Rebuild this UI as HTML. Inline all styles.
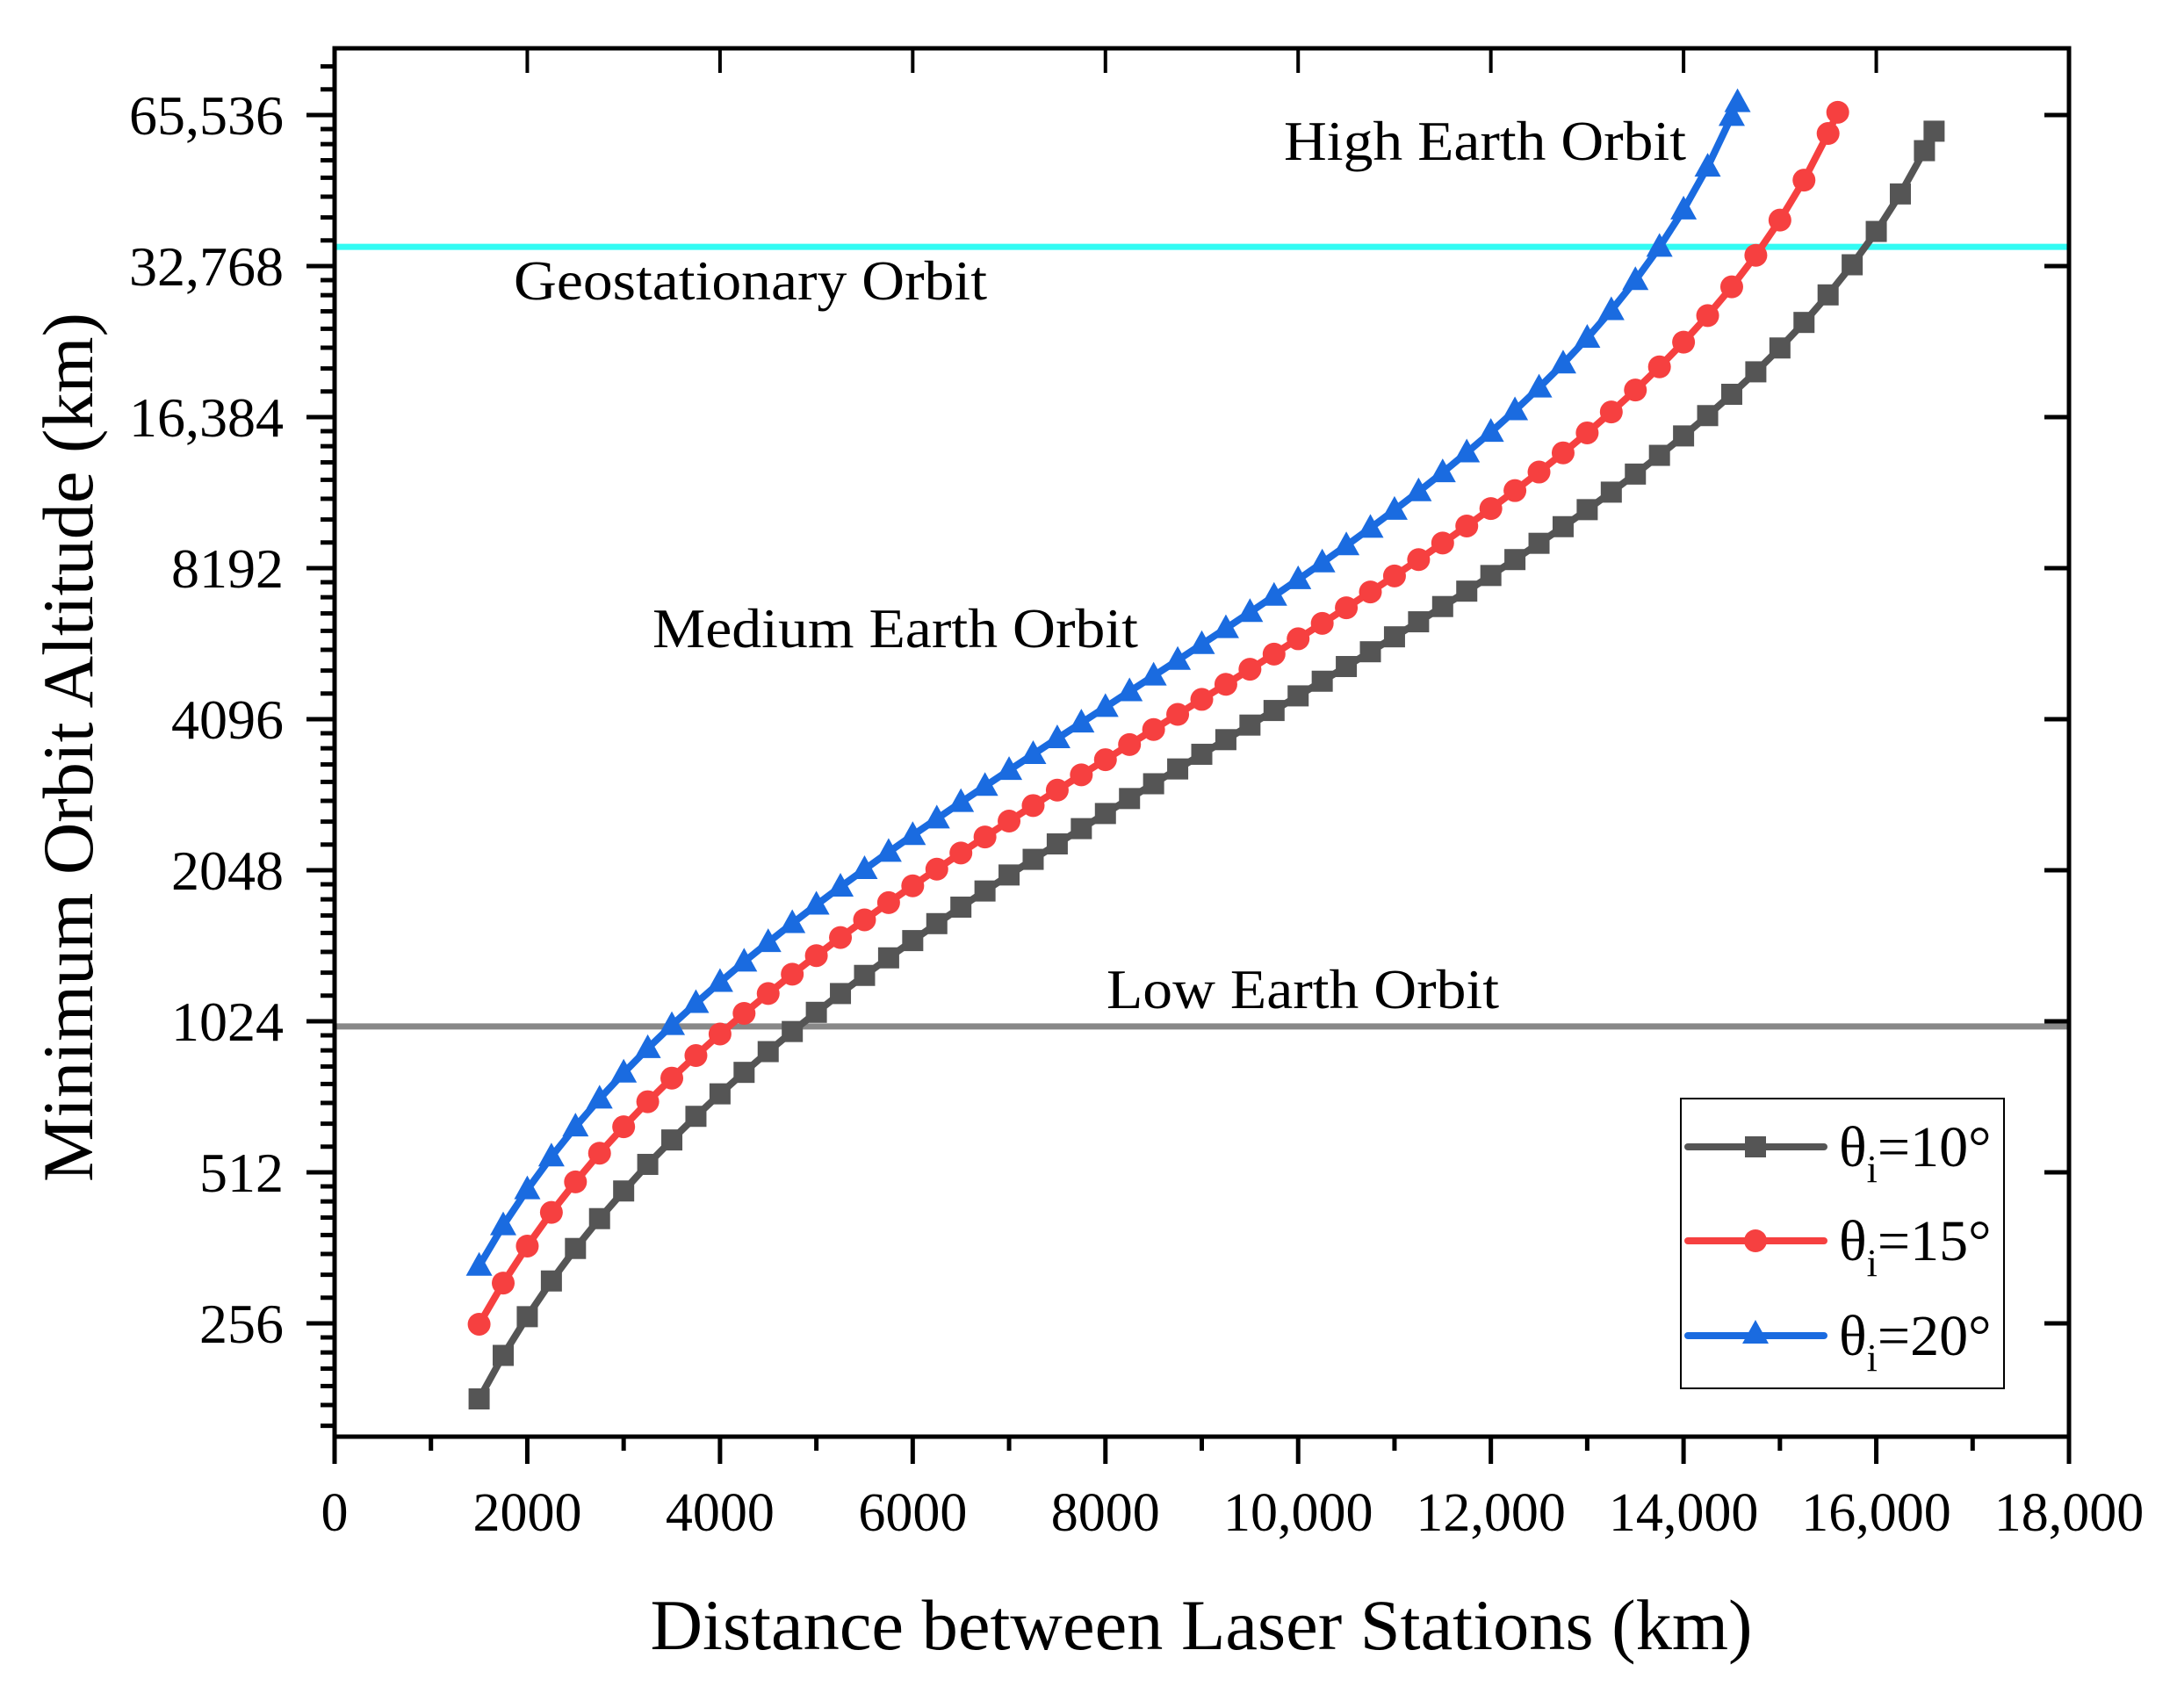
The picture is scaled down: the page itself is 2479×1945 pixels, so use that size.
<!DOCTYPE html>
<html><head><meta charset="utf-8"><title>Minimum Orbit Altitude vs Distance</title>
<style>
html,body{margin:0;padding:0;background:#fff;}
svg{display:block;font-family:"Liberation Serif",serif;}
</style></head>
<body>
<svg id="chart" xmlns="http://www.w3.org/2000/svg" width="2479" height="1945" viewBox="0 0 2479 1945">
<rect x="0" y="0" width="2479" height="1945" fill="#fff"/>
<g id="refLines"></g>
<g id="series"></g>
<g id="axes"></g>
<g id="annot"></g>
<g id="legend"></g>
</svg>
<script>
// ---- data ----
const xTicks = [0,2000,4000,6000,8000,10000,12000,14000,16000,18000];
const xTickLabels = ["0","2000","4000","6000","8000","10,000","12,000","14,000","16,000","18,000"];
const yTicks = [256,512,1024,2048,4096,8192,16384,32768,65536];
const yTickLabels = ["256","512","1024","2048","4096","8192","16,384","32,768","65,536"];

const dist10 = [1500,1750,2000,2250,2500,2750,3000,3250,3500,3750,4000,4250,4500,4750,5000,5250,5500,5750,6000,6250,6500,6750,7000,7250,7500,7750,8000,8250,8500,8750,9000,9250,9500,9750,10000,10250,10500,10750,11000,11250,11500,11750,12000,12250,12500,12750,13000,13250,13500,13750,14000,14250,14500,14750,15000,15250,15500,15750,16000,16250,16500,16600];
const alt10 = [181,221,264,311,361,414,470,531,594,662,734,810,891,977,1067,1163,1264,1370,1483,1603,1729,1862,2004,2153,2311,2479,2657,2846,3046,3260,3487,3729,3987,4263,4559,4876,5216,5582,5978,6405,6869,7372,7921,8521,9182,9910,10716,11612,12616,13747,15030,16499,18193,20170,22502,25300,28710,32966,38413,45628,55653,60850];

const dist15 = [1500,1750,2000,2250,2500,2750,3000,3250,3500,3750,4000,4250,4500,4750,5000,5250,5500,5750,6000,6250,6500,6750,7000,7250,7500,7750,8000,8250,8500,8750,9000,9250,9500,9750,10000,10250,10500,10750,11000,11250,11500,11750,12000,12250,12500,12750,13000,13250,13500,13750,14000,14250,14500,14750,15000,15250,15500,15600];
const alt15 = [255,308,365,426,490,559,631,708,789,875,966,1062,1163,1271,1384,1504,1631,1765,1907,2058,2217,2386,2566,2756,2958,3173,3402,3646,3907,4187,4486,4807,5152,5523,5924,6359,6830,7344,7905,8519,9194,9941,10769,11694,12733,13906,15241,16775,18552,20636,23112,26105,29789,34433,40462,48610,60215,66370];

const dist20 = [1500,1750,2000,2250,2500,2750,3000,3250,3500,3750,4000,4250,4500,4750,5000,5250,5500,5750,6000,6250,6500,6750,7000,7250,7500,7750,8000,8250,8500,8750,9000,9250,9500,9750,10000,10250,10500,10750,11000,11250,11500,11750,12000,12250,12500,12750,13000,13250,13500,13750,14000,14250,14500,14560];
const alt20 = [333,401,473,550,631,717,808,904,1005,1112,1225,1345,1471,1605,1747,1897,2056,2225,2404,2594,2797,3012,3241,3486,3748,4028,4328,4650,4997,5371,5776,6214,6690,7209,7777,8400,9088,9848,10695,11642,12707,13915,15294,16886,18743,20930,23546,26730,30692,35748,42421,51646,65190,69440];

const geoAlt = 35786;
const leoAlt = 1000;

// ---- layout ----
const L=381,R=2356,T=55,B=1636;
const X0=0,X1=18000;
const Y256=1507, PX_PER_DOUBLING=172;
function xs(v){return L+(v-X0)/(X1-X0)*(R-L);}
function ys(v){return Y256-Math.log2(v/256)*PX_PER_DOUBLING;}

const NS="http://www.w3.org/2000/svg";
function mk(tag,attrs,parent){const e=document.createElementNS(NS,tag);for(const k in attrs)e.setAttribute(k,attrs[k]);parent.appendChild(e);return e;}

const axes=document.getElementById('axes');
const refL=document.getElementById('refLines');
const ser=document.getElementById('series');
const ann=document.getElementById('annot');
const leg=document.getElementById('legend');

// reference lines
let g1=mk('line',{x1:L,x2:R,y1:ys(geoAlt),y2:ys(geoAlt),stroke:'#33fbf3','stroke-width':7},refL);


let g2=mk('line',{x1:L,x2:R,y1:ys(leoAlt),y2:ys(leoAlt),stroke:'#888888','stroke-width':7},refL);



// series
function drawSeries(dist,alt,color,shape,name){
  const grp=mk('g',{},ser);
  
  
  const pts=dist.map((d,i)=>xs(d).toFixed(1)+','+ys(alt[i]).toFixed(1)).join(' ');
  const pl=mk('polyline',{points:pts,fill:'none',stroke:color,'stroke-width':8,'stroke-linejoin':'round'},grp);
  
  
  dist.forEach((d,i)=>{
    const cx=xs(d),cy=ys(alt[i]);let m;
    if(shape==='square'){m=mk('rect',{x:cx-12,y:cy-12,width:24,height:24,fill:color},grp);}
    else if(shape==='circle'){m=mk('circle',{cx:cx,cy:cy,r:13,fill:color},grp);}
    else {m=mk('polygon',{points:`${cx},${cy-16} ${cx-15},${cy+11} ${cx+15},${cy+11}`,fill:color},grp);}
    
    
  });
}
drawSeries(dist10,alt10,'#555555','square','series-theta-10');
drawSeries(dist15,alt15,'#f64040','circle','series-theta-15');
drawSeries(dist20,alt20,'#1a6be0','triangle','series-theta-20');

// axes frame
let fr=mk('rect',{x:L,y:T,width:R-L,height:B-T,fill:'none',stroke:'#000','stroke-width':5},axes);



// x ticks
xTicks.forEach((v,i)=>{
  const x=xs(v);
  let t=mk('line',{x1:x,x2:x,y1:B,y2:B+31,stroke:'#000','stroke-width':5},axes);
  
  
  let tt=mk('line',{x1:x,x2:x,y1:T,y2:T+28,stroke:'#000','stroke-width':4},axes);
  
  
  const lb=mk('text',{x:x,y:1743,'font-size':62,'text-anchor':'middle',fill:'#000'},axes);
  lb.textContent=xTickLabels[i];
  
  
  if(i<xTicks.length-1){
    const xm=xs(v+1000);
    let mt=mk('line',{x1:xm,x2:xm,y1:B,y2:B+16,stroke:'#000','stroke-width':5},axes);
    
    
  }
});

// y ticks
const yMin=256/Math.pow(2,(B-Y256)/PX_PER_DOUBLING), yMax=65536*Math.pow(2,(ys(65536)-T)/PX_PER_DOUBLING);
yTicks.forEach((v,i)=>{
  const y=ys(v);
  let t=mk('line',{x1:L-32,x2:L,y1:y,y2:y,stroke:'#000','stroke-width':5},axes);
  
  
  let rt=mk('line',{x1:R-28,x2:R,y1:y,y2:y,stroke:'#000','stroke-width':5},axes);
  
  
  const lb=mk('text',{x:323,y:y+22,'font-size':64,'text-anchor':'end',fill:'#000'},axes);
  lb.textContent=yTickLabels[i];
  
  
});
for(let base=128;base<=65536;base*=2){
  for(let j=1;j<8;j++){
    const v=base*(1+j/8);
    if(v<yMin||v>yMax)continue;
    const y=ys(v);
    let mt=mk('line',{x1:L-16,x2:L,y1:y,y2:y,stroke:'#000','stroke-width':5},axes);
    
    
  }
}

// axis titles
let xt=mk('text',{x:1368,y:1878,'font-size':82,'text-anchor':'middle',fill:'#000',textLength:1255,lengthAdjust:'spacingAndGlyphs'},axes);
xt.textContent='Distance between Laser Stations (km)';


let yt=mk('text',{x:0,y:0,'font-size':82,'text-anchor':'middle',fill:'#000',transform:'translate(105,851) rotate(-90)',textLength:990,lengthAdjust:'spacingAndGlyphs'},axes);
yt.textContent='Minimum Orbit Altitude (km)';



// annotations
const notes=[['High Earth Orbit',1462,182,458,'label-high-earth-orbit'],['Geostationary Orbit',585,341,539,'label-geostationary-orbit'],['Medium Earth Orbit',743,737,553,'label-medium-earth-orbit'],['Low Earth Orbit',1260,1148,447,'label-low-earth-orbit']];
notes.forEach(n=>{
  const t=mk('text',{x:n[1],y:n[2],'font-size':64,fill:'#000',textLength:n[3],lengthAdjust:'spacingAndGlyphs'},ann);
  t.textContent=n[0];
  
  
});

// legend
let lb=mk('rect',{x:1914,y:1251,width:368,height:330,fill:'#fff',stroke:'#000','stroke-width':2},leg);


const legItems=[['#555555','square','10°',1306,'legend-entry-theta-10'],['#f64040','circle','15°',1413,'legend-entry-theta-15'],['#1a6be0','triangle','20°',1521,'legend-entry-theta-20']];
legItems.forEach(it=>{
  const g=mk('g',{},leg);
  
  
  const y=it[3],c=it[0];
  mk('line',{x1:1922,x2:2077,y1:y,y2:y,stroke:c,'stroke-width':8,'stroke-linecap':'round'},g);
  const cx=1999;
  if(it[1]==='square')mk('rect',{x:cx-12,y:y-12,width:24,height:24,fill:c},g);
  else if(it[1]==='circle')mk('circle',{cx:cx,cy:y,r:13,fill:c},g);
  else mk('polygon',{points:`${cx},${y-18} ${cx-15},${y+9} ${cx+15},${y+9}`,fill:c},g);
  const t=mk('text',{x:2094,y:y+22,'font-size':66,fill:'#000'},g);
  t.innerHTML='θ<tspan font-size="44" dy="18">i</tspan><tspan dy="-18">='+it[2]+'</tspan>';
});
</script>
</body></html>
